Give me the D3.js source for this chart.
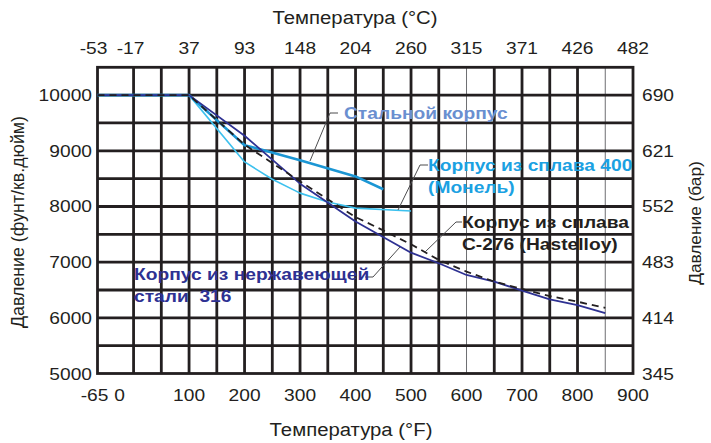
<!DOCTYPE html>
<html><head><meta charset="utf-8">
<script src="https://cdn.jsdelivr.net/npm/d3@7"></script>
<style>body{margin:0;background:#fff}svg{display:block}text{font-family:"Liberation Sans",Arial,sans-serif;fill:#231f20}</style>
</head><body><svg id="c" width="711" height="443"></svg>
<script>
// ---- data ----
const ticksF = [-65, 0, 100, 200, 300, 400, 500, 600, 700, 800, 900];
const ticksC = ["-53", "-17", "37", "93", "148", "204", "260", "315", "371", "426", "482"];
const ticksPsi = [5000, 6000, 7000, 8000, 9000, 10000];
const ticksBar = ["345", "414", "483", "552", "621", "690"];

const steelF   = [-65, 100, 200, 228, 300, 400, 450];
const steelPsi = [10000, 10000, 9100, 9030, 8830, 8540, 8310];

const monelF   = [-65, 100, 200, 250, 300, 350, 400, 500];
const monelPsi = [10000, 10000, 8800, 8490, 8240, 8080, 7970, 7920];

const ss316F   = [-65, 100, 200, 300, 400, 500, 550, 600, 650, 700, 750, 800, 850];
const ss316Psi = [10000, 10000, 9270, 8410, 7730, 7170, 6980, 6770, 6650, 6490, 6330, 6230, 6085];

const hastF    = [-65, 100, 200, 300, 400, 450, 500, 550, 600, 650, 700, 750, 800, 850];
const hastPsi  = [10000, 10000, 9110, 8450, 7810, 7570, 7320, 7040, 6830, 6650, 6520, 6390, 6290, 6180];

// ---- layout ----
const svg = d3.select("#c");
const L = 97.5, R = 633, T = 67.3, B = 373.5;
const x = d3.scaleLinear().domain([-65, 900]).range([L, R]);
const y = d3.scaleLinear().domain([5000, 10500]).range([B, T]);
const FS = 17, SX = 1.13;
const tr = (px, py) => `translate(${px},${py}) scale(${SX},1)`;

// grid
const gridX = d3.range(0, 900, 50);
const thinX = [600, 850];
svg.append("g").selectAll("line").data(gridX).join("line")
  .attr("x1", d => x(d)).attr("x2", d => x(d)).attr("y1", T).attr("y2", B)
  .attr("stroke", d => thinX.includes(d) ? "#6d6e71" : "#231f20")
  .attr("stroke-width", d => thinX.includes(d) ? 1 : 2.8);
svg.append("g").selectAll("line").data(d3.range(5500, 10500, 500)).join("line")
  .attr("x1", L).attr("x2", R).attr("y1", d => y(d)).attr("y2", d => y(d))
  .attr("stroke", "#231f20").attr("stroke-width", 2.8);
svg.append("rect").attr("x", L).attr("y", T).attr("width", R - L).attr("height", B - T)
  .attr("fill", "none").attr("stroke", "#231f20").attr("stroke-width", 2.8);

// series
const line = d3.line().x(d => x(d[0])).y(d => y(d[1]));
function series(fs, ps, color, w, dash) {
  svg.append("path").datum(fs.map((f, i) => [f, ps[i]])).attr("d", line)
    .attr("fill", "none").attr("stroke", color).attr("stroke-width", w)
    .attr("stroke-linejoin", "round").attr("stroke-dasharray", dash || null);
}
series(monelF, monelPsi, "#3dc1ee", 1.6);
series(steelF, steelPsi, "#1b96d4", 2.6);
series(ss316F, ss316Psi, "#2e3192", 1.8);
series(hastF, hastPsi, "#231f20", 1.8, "7,5");

// axes labels
const bottomDx = {"-65": -3, "0": -14};
svg.append("g").selectAll("text").data(ticksF).join("text")
  .attr("transform", d => tr(x(d) + (bottomDx[d] || 0), 401))
  .attr("text-anchor", "middle").attr("font-size", FS).text(d => d);
const topDx = [-4, -3, 0, 0, 0, 0, 0, 0, 0, 0, 0];
svg.append("g").selectAll("text").data(ticksC).join("text")
  .attr("transform", (d, i) => tr(x(ticksF[i]) + topDx[i], 54))
  .attr("text-anchor", "middle").attr("font-size", FS).text(d => d);
svg.append("g").selectAll("text").data(ticksPsi).join("text")
  .attr("transform", d => tr(92, y(d) + 6))
  .attr("text-anchor", "end").attr("font-size", FS).text(d => d);
svg.append("g").selectAll("text").data(ticksBar).join("text")
  .attr("transform", (d, i) => tr(642, y(ticksPsi[i]) + 6))
  .attr("text-anchor", "start").attr("font-size", FS).text(d => d);

svg.append("text").attr("transform", tr(355, 24)).attr("text-anchor", "middle")
  .attr("font-size", 18).text("Температура (°C)");
svg.append("text").attr("transform", tr(351, 436)).attr("text-anchor", "middle")
  .attr("font-size", 18).text("Температура (°F)");
svg.append("text").attr("transform", "translate(24,222) rotate(-90)").attr("text-anchor", "middle")
  .attr("font-size", 17.8).text("Давление (фунт/кв.дюйм)");
svg.append("text").attr("transform", "translate(701,223) rotate(-90)").attr("text-anchor", "middle")
  .attr("font-size", 17.3).text("Давление (бар)");

// annotations
const ann = [
  {lines: ["Стальной  корпус"], x: 344, y: 119, color: "#6a8fd0", lead: [[338,113],[330,113],[310,161]]},
  {lines: ["Корпус из сплава 400", "(Монель)"], x: 428, y: 171, color: "#1ba1e2", lead: [[428,165],[420,165],[398,210]]},
  {lines: ["Корпус из сплава", "C-276 (Hastelloy)"], x: 462, y: 228, color: "#231f20", lead: [[462,222],[456,222],[425,252]]},
  {lines: ["Корпус из нержавеющей", "стали  316"], x: 134, y: 280, color: "#2e3192", lead: [[365,277],[373,277],[400,247]]}
];
ann.forEach(a => {
  svg.append("path").attr("d", d3.line()(a.lead)).attr("fill", "none")
    .attr("stroke", "#4d4d4f").attr("stroke-width", 1);
  a.lines.forEach((t, i) => {
    svg.append("text").attr("transform", tr(a.x, a.y + i * 22))
      .attr("font-size", FS).attr("font-weight", "bold")
      .style("fill", a.color).style("white-space", t.startsWith("стали") ? "pre" : null).text(t);
  });
});
</script></body></html>
